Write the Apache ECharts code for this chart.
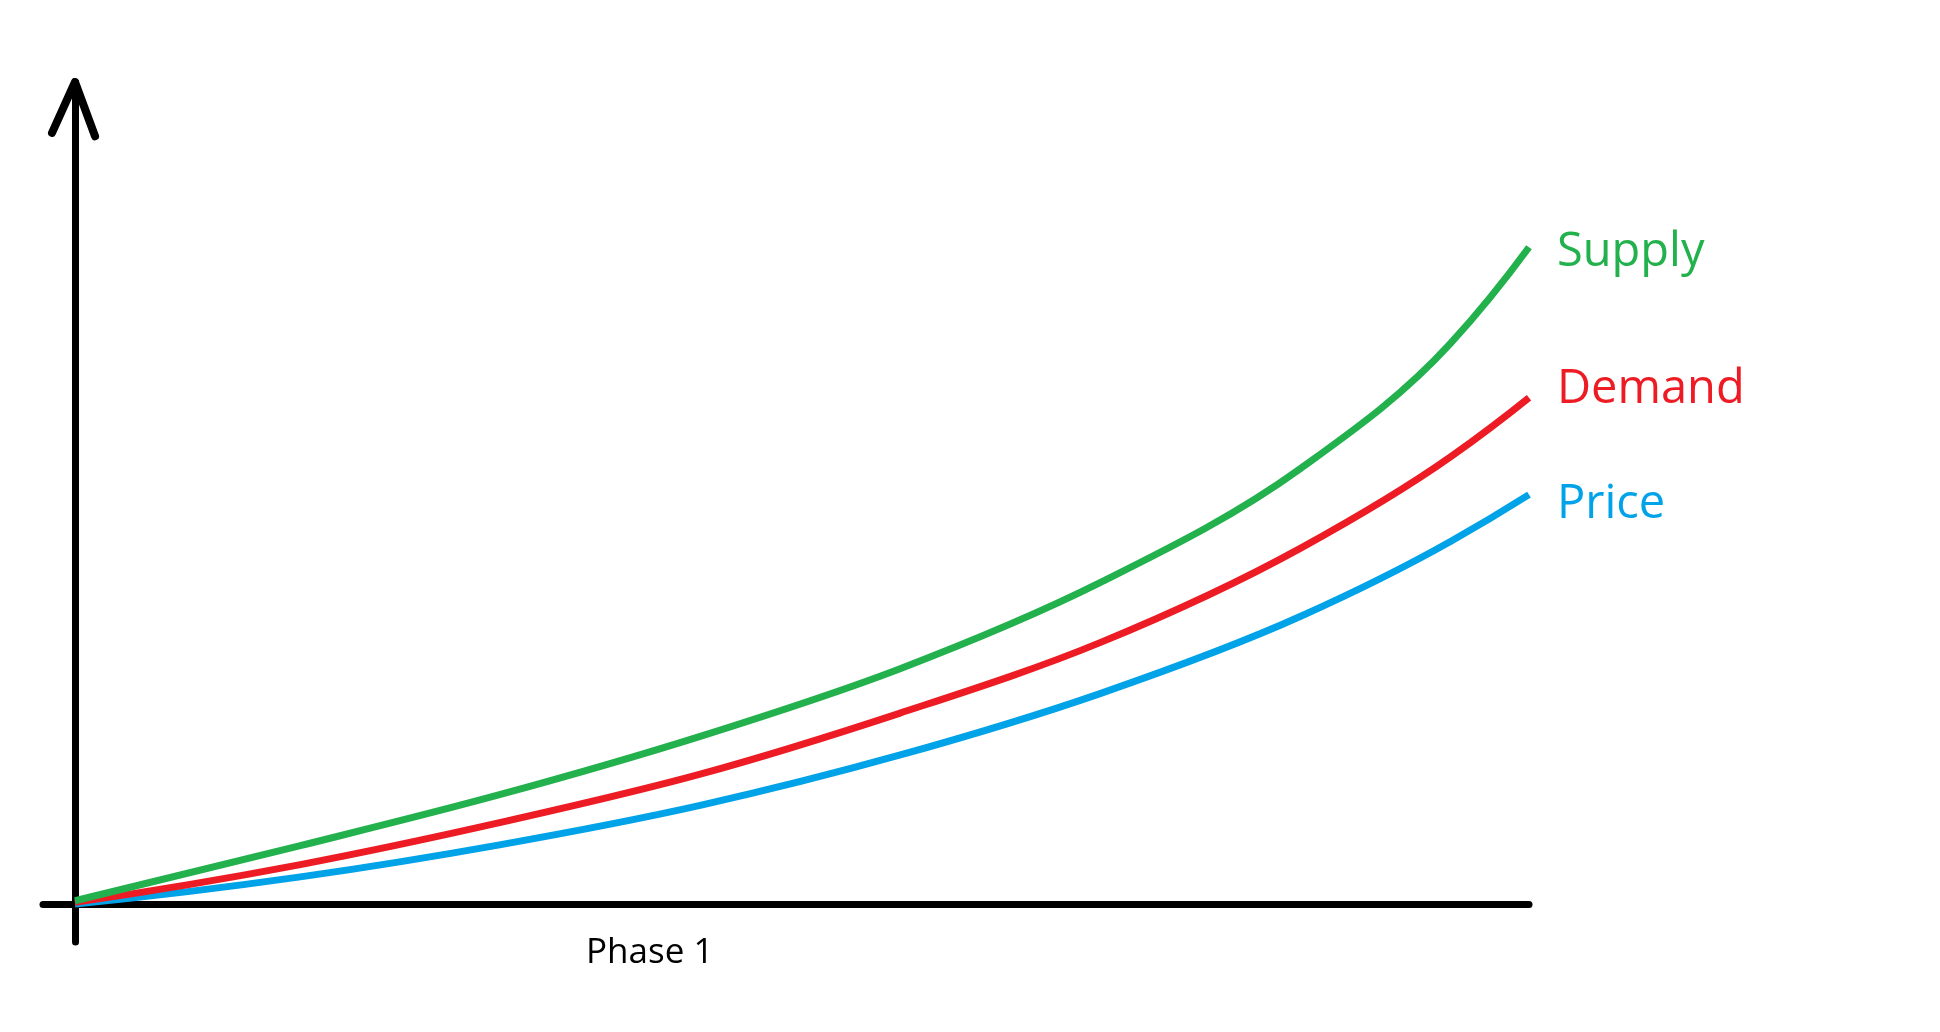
<!DOCTYPE html>
<html>
<head>
<meta charset="utf-8">
<script src="https://cdn.jsdelivr.net/npm/echarts@6/dist/echarts.min.js"></script>
<style>
  html, body { margin: 0; padding: 0; background: #ffffff; }
  #chart { width: 1940px; height: 1032px; }
</style>
</head>
<body>
<div id="chart"></div>
<script>
// Data (x: 0..100 along the horizontal axis, y: 0..100 up the vertical axis)
const xs = [0, 15.5, 29.2, 43.0, 56.7, 70.5, 84.3, 94.6, 100];
const supply = [0.4, 7.1, 13.3, 20.4, 28.6, 39.1, 53.0, 68.2, 79.9];
const demand = [0.2, 4.8, 9.9, 15.8, 23.2, 31.8, 43.3, 54.4, 61.6];
const price  = [0.0, 3.3, 7.2, 12.0, 18.1, 25.6, 35.0, 44.1, 49.8];
const seriesNames = ['Supply', 'Demand', 'Price'];
const seriesColors = ['#22B14C', '#ED1C24', '#00A2E8'];
const xLabel = 'Phase 1';
// arrowhead wings at the top of the vertical axis
const arrowX = [-1.58, 0, 1.38];
const arrowY = [93.8, 100, 93.4];

const pair = (a) => xs.map((x, i) => [x, a[i]]);
const chart = echarts.init(document.getElementById('chart'), null, { renderer: 'canvas' });
const fontFam = '"Open Sans", "Noto Sans", sans-serif';
const labelOffsets = [5, -8, 10];

// smooth cubic Hermite path through pixel points (parameterised by x)
function smoothPath(pts) {
  const n = pts.length;
  const d = [], h = [];
  for (let i = 0; i < n - 1; i++) {
    h[i] = pts[i + 1][0] - pts[i][0];
    d[i] = (pts[i + 1][1] - pts[i][1]) / h[i];
  }
  const m = new Array(n);
  for (let i = 1; i < n - 1; i++) {
    m[i] = (h[i - 1] * d[i] + h[i] * d[i - 1]) / (h[i - 1] + h[i]);
  }
  m[0] = 2 * d[0] - m[1];
  m[n - 1] = 2 * d[n - 2] - m[n - 2];
  let p = 'M' + pts[0][0] + ' ' + pts[0][1];
  for (let i = 0; i < n - 1; i++) {
    const t = h[i] / 3;
    p += ' C' + (pts[i][0] + t) + ' ' + (pts[i][1] + m[i] * t) + ' ' +
         (pts[i + 1][0] - t) + ' ' + (pts[i + 1][1] - m[i + 1] * t) + ' ' +
         pts[i + 1][0] + ' ' + pts[i + 1][1];
  }
  return p;
}

const curveSeries = [supply, demand, price].map((vals, si) => ({
  name: seriesNames[si],
  type: 'custom',
  data: pair(vals),
  encode: { x: 0, y: 1 },
  clip: false,
  z: 5 - si,
  renderItem: function (params, api) {
    if (params.dataIndex !== 0) return null;
    const pts = xs.map((x, k) => api.coord([x, vals[k]]));
    const end = pts[pts.length - 1];
    return {
      type: 'group',
      children: [{
        type: 'path',
        shape: { pathData: smoothPath(pts) },
        style: { fill: 'none', stroke: seriesColors[si], lineWidth: 7 }
      }, {
        type: 'text',
        x: end[0] + 28,
        y: end[1] + labelOffsets[si],
        style: {
          text: seriesNames[si], fill: seriesColors[si],
          font: '47px ' + fontFam, align: 'left', verticalAlign: 'middle'
        }
      }]
    };
  }
}));

chart.setOption({
  animation: false,
  backgroundColor: '#ffffff',
  grid: { left: 43, right: 411, top: 82, bottom: 90, containLabel: false },
  xAxis: {
    type: 'value', min: -2.2, max: 100,
    axisLine: { show: true, onZero: true, lineStyle: { color: '#000', width: 7, cap: 'round' } },
    axisTick: { show: false }, axisLabel: { show: false }, splitLine: { show: false }
  },
  yAxis: {
    type: 'value', min: -4.62, max: 100,
    axisLine: { show: true, onZero: true, lineStyle: { color: '#000', width: 7, cap: 'round' } },
    axisTick: { show: false }, axisLabel: { show: false }, splitLine: { show: false }
  },
  graphic: [{
    type: 'text', left: 586, top: 936,
    style: { text: xLabel, font: '35px "Open Sans", "Noto Sans", sans-serif', fill: '#000' }
  }],
  series: curveSeries.concat([{
    type: 'line',
    data: arrowX.map((x, i) => [x, arrowY[i]]),
    symbol: 'none',
    lineStyle: { color: '#000', width: 8, cap: 'round', join: 'round' },
    z: 10
  }])
});
</script>
</body>
</html>
